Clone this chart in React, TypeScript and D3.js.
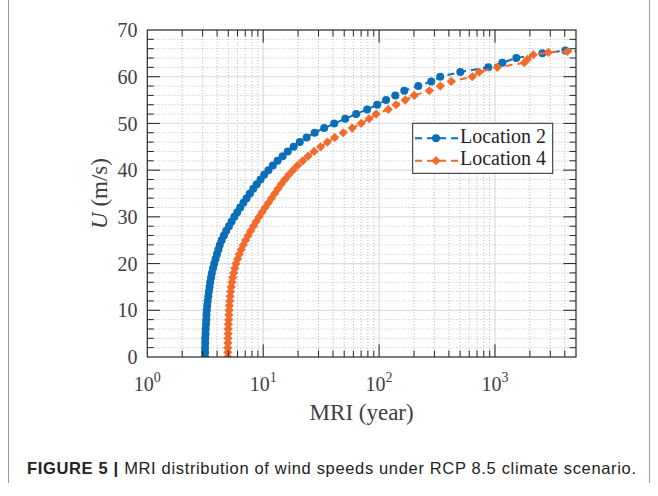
import React from "react";
import * as d3 from "d3";

// Location 2: wind speed U (m/s) and MRI (year)
const loc2U = [0,1,2,3,4,5,6,7,8,9,10,11,12,13,14,15,16,17,18,19,20,21,22,23,24,25,26,27,28,29,30,31,32,33,34,35,36,37,38,39,40,41,42,43,44,45,46,47,48,49,50,51,52,53,54,55,56,57,58,59,60,61,62,63,64,65,65.6,65.8];
const loc2MRI = [3.15,3.15,3.15,3.16,3.16,3.18,3.19,3.21,3.23,3.24,3.26,3.29,3.32,3.36,3.40,3.44,3.49,3.55,3.61,3.69,3.78,3.88,3.99,4.11,4.22,4.38,4.58,4.80,5.06,5.34,5.64,5.97,6.34,6.75,7.19,7.68,8.21,8.80,9.48,10.2,11.1,12.1,13.3,14.7,16.3,18.3,20.7,23.7,27.8,33.6,41.0,51.0,63.4,78.9,96.3,115,138,165,218,282,337,502,875,1156,1527,2562,4047,10000];

// Location 4
const loc4U = [0,1,2,3,4,5,6,7,8,9,10,11,12,13,14,15,16,17,18,19,20,21,22,23,24,25,26,27,28,29,30,31,32,33,34,35,36,37,38,39,40,41,42,43,44,45,46,47,48,49,50,51,52,53,54,55,56,57,58,59,60,61,62,63,63.7,64.7,65.2,65.4,65.7];
const loc4MRI = [4.95,4.95,4.95,4.96,4.97,4.98,4.99,5.01,5.04,5.06,5.08,5.11,5.15,5.19,5.24,5.30,5.38,5.46,5.56,5.68,5.83,6.01,6.22,6.46,6.73,7.05,7.41,7.80,8.23,8.70,9.22,9.78,10.4,11.1,11.8,12.6,13.4,14.3,15.4,16.6,18.1,19.8,21.9,24.4,27.5,31.3,35.8,41.4,49.0,58.6,70.0,82.1,94.4,120,140,168,201,271,337,419,637,732,1047,1791,1901,2142,2886,4211,10000];

const xMajor = [1, 10, 100, 1000];
const xExp = ["0", "1", "2", "3"];
const yTicks = [0, 10, 20, 30, 40, 50, 60, 70];
const seriesNames = ["Location 2", "Location 4"];
const colors = ["#0b6fb8", "#f26b2c"];

const W = 658, H = 496;
const L = 147.3, R = 576, T = 30, B = 357;
const serif = "'Liberation Serif','Times New Roman',serif";

export default function App() {
  const x = d3.scaleLog().domain([1, 5000]).range([L, R]);
  const y = d3.scaleLinear().domain([0, 70]).range([B, T]);

  const xMinor: number[] = [];
  for (const d of [1, 10, 100, 1000]) for (let k = 2; k <= 9; k++) if (d * k < 5000) xMinor.push(d * k);
  const yMinor = d3.range(0, 71, 2).filter((v) => v % 10 !== 0);

  const line = d3.line<[number, number]>().x((d) => x(d[0])).y((d) => y(d[1]));
  const s2: [number, number][] = loc2MRI.map((m, i) => [m, loc2U[i]]);
  const s4: [number, number][] = loc4MRI.map((m, i) => [m, loc4U[i]]);

  const diamond = (cx: number, cy: number, r: number) =>
    `M${cx},${cy - r}L${cx + r},${cy}L${cx},${cy + r}L${cx - r},${cy}Z`;

  const tickCol = "#262626";
  const majLen = 12.7, minLen = 6.5;

  return (
    <svg width={W} height={H} style={{ position: "absolute", left: 0, top: 0, background: "#fff" }}>
      <line x1={8.5} x2={8.5} y1={0} y2={483} stroke="#9a9a9a" strokeWidth={1} />
      <line x1={649.5} x2={649.5} y1={0} y2={483} stroke="#9a9a9a" strokeWidth={1} />
      <defs>
        <clipPath id="plotclip">
          <rect x={L} y={T} width={R - L} height={B - T} />
        </clipPath>
      </defs>
      <rect x={L} y={T} width={R - L} height={B - T} fill="#fff" />
      {/* minor grid */}
      {xMinor.map((v) => (
        <line key={"xm" + v} x1={x(v)} x2={x(v)} y1={T} y2={B} stroke="#bdbdbd" strokeWidth={1} strokeDasharray="1,2" />
      ))}
      {yMinor.map((v) => (
        <line key={"ym" + v} x1={L} x2={R} y1={y(v)} y2={y(v)} stroke="#bdbdbd" strokeWidth={1} strokeDasharray="1,2" />
      ))}
      {/* major grid */}
      {xMajor.slice(1).map((v) => (
        <line key={"xM" + v} x1={x(v)} x2={x(v)} y1={T} y2={B} stroke="#dedede" strokeWidth={1.3} />
      ))}
      {yTicks.slice(1, -1).map((v) => (
        <line key={"yM" + v} x1={L} x2={R} y1={y(v)} y2={y(v)} stroke="#dedede" strokeWidth={1.3} />
      ))}
      {/* data */}
      <g clipPath="url(#plotclip)">
        <path d={line(s2) || ""} fill="none" stroke={colors[0]} strokeWidth={2} strokeDasharray="7,5" />
        {s2.map((d, i) => (
          <circle key={"c" + i} cx={x(d[0])} cy={y(d[1])} r={4} fill={colors[0]} />
        ))}
        <path d={line(s4) || ""} fill="none" stroke={colors[1]} strokeWidth={2} strokeDasharray="7,5" />
        {s4.map((d, i) => (
          <path key={"d" + i} d={diamond(x(d[0]), y(d[1]), 4.6)} fill={colors[1]} />
        ))}
      </g>
      {/* ticks */}
      {xMajor.slice(1).map((v) => (
        <g key={"xt" + v}>
          <line x1={x(v)} x2={x(v)} y1={B} y2={B - majLen} stroke={tickCol} />
          <line x1={x(v)} x2={x(v)} y1={T} y2={T + majLen} stroke={tickCol} />
        </g>
      ))}
      {xMinor.map((v) => (
        <g key={"xmt" + v}>
          <line x1={x(v)} x2={x(v)} y1={B} y2={B - minLen} stroke={tickCol} />
          <line x1={x(v)} x2={x(v)} y1={T} y2={T + minLen} stroke={tickCol} />
        </g>
      ))}
      {yTicks.slice(1, -1).map((v) => (
        <g key={"yt" + v}>
          <line x1={L} x2={L + majLen} y1={y(v)} y2={y(v)} stroke={tickCol} />
          <line x1={R} x2={R - majLen} y1={y(v)} y2={y(v)} stroke={tickCol} />
        </g>
      ))}
      {yMinor.map((v) => (
        <g key={"ymt" + v}>
          <line x1={L} x2={L + minLen} y1={y(v)} y2={y(v)} stroke={tickCol} />
          <line x1={R} x2={R - minLen} y1={y(v)} y2={y(v)} stroke={tickCol} />
        </g>
      ))}
      <rect x={L} y={T} width={R - L} height={B - T} fill="none" stroke={tickCol} strokeWidth={1.2} />
      {/* tick labels */}
      {yTicks.map((v) => (
        <text key={"yl" + v} x={137.5} y={y(v)} dy="0.36em" textAnchor="end" fontFamily={serif} fontSize={20} fill="#404040">
          {v}
        </text>
      ))}
      {xMajor.map((v, i) => (
        <text key={"xl" + v} x={x(v)} y={391} textAnchor="middle" fontFamily={serif} fontSize={20} fill="#404040">
          10
          <tspan fontSize={14} dy={-9}>{xExp[i]}</tspan>
        </text>
      ))}
      {/* axis labels */}
      <text x={(L + R) / 2} y={420} textAnchor="middle" fontFamily={serif} fontSize={23} fill="#404040">
        MRI (year)
      </text>
      <text transform={`translate(107,${(T + B) / 2}) rotate(-90)`} textAnchor="middle" fontFamily={serif} fontSize={23} fill="#404040">
        <tspan fontStyle="italic">U</tspan> (m/s)
      </text>
      {/* legend */}
      <rect x={412.7} y={123.3} width={140} height={50} fill="#fff" stroke="#262626" strokeWidth={1} />
      {seriesNames.map((n, i) => {
        const ly = i === 0 ? 138.3 : 160.7;
        return (
          <g key={n}>
            <line x1={415} x2={458} y1={ly} y2={ly} stroke={colors[i]} strokeWidth={2} strokeDasharray="7,5" />
            {i === 0 ? (
              <circle cx={436} cy={ly} r={4} fill={colors[i]} />
            ) : (
              <path d={diamond(436, ly, 4.6)} fill={colors[i]} />
            )}
            <text x={460} y={ly + 4.5} fontFamily={serif} fontSize={20} fill="#262626">
              {n}
            </text>
          </g>
        );
      })}
      {/* caption */}
      <text x={27} y={474} fontFamily="'Liberation Sans',Arial,sans-serif" fontSize={16.5} fill="#222" textLength={609} lengthAdjust="spacing">
        <tspan fontWeight="bold">FIGURE 5 |</tspan> MRI distribution of wind speeds under RCP 8.5 climate scenario.
      </text>
    </svg>
  );
}
